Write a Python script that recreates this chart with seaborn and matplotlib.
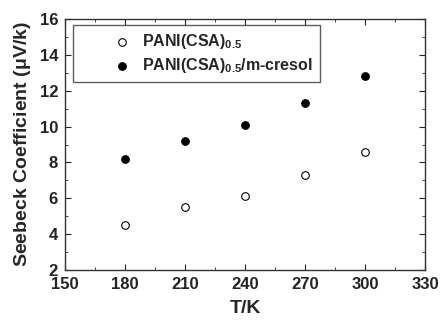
import matplotlib
matplotlib.use('Agg')
import matplotlib.pyplot as plt
import pandas as pd
import seaborn as sns
from matplotlib.ticker import MultipleLocator

temps = [180, 210, 240, 270, 300]
seebeck_csa = [4.5, 5.5, 6.1, 7.3, 8.6]
seebeck_cresol = [8.2, 9.2, 10.1, 11.3, 12.8]
labels = [r'PANI(CSA)$_{\mathbf{0.5}}$', r'PANI(CSA)$_{\mathbf{0.5}}$/m-cresol']

data = pd.DataFrame({
	'T': temps * 2,
	'S': seebeck_csa + seebeck_cresol,
	'sample': [labels[0]] * len(temps) + [labels[1]] * len(temps),
})

sns.set_style('ticks')
plt.rcParams['font.family'] = ['Liberation Sans', 'DejaVu Sans']
plt.rcParams['font.weight'] = 'bold'
plt.rcParams['mathtext.fontset'] = 'custom'
plt.rcParams['mathtext.bf'] = 'Liberation Sans:bold'

fig = plt.figure(figsize=(4.4, 3.23), dpi=100)
ax = fig.add_axes([65 / 440, 1 - 270 / 323, 360 / 440, 251 / 323])

for lab, fc in zip(labels, ['white', 'black']):
	sub = data[data['sample'] == lab]
	sns.scatterplot(data=sub, x='T', y='S', ax=ax, marker='o', s=30,
		facecolor=fc, edgecolor='black', linewidth=0.8, label=lab)

ax.set_xlim(150, 330)
ax.set_ylim(2, 16)
ax.xaxis.set_major_locator(MultipleLocator(30))
ax.xaxis.set_minor_locator(MultipleLocator(15))
ax.yaxis.set_major_locator(MultipleLocator(2))
ax.yaxis.set_minor_locator(MultipleLocator(1))
ax.tick_params(which='both', direction='in', top=True, right=True, colors='#222222',
	labelsize=12, pad=5)
ax.tick_params(which='major', length=4)
ax.tick_params(which='minor', length=2.5)
ax.tick_params(labeltop=False, labelright=False)
for lab in ax.get_xticklabels() + ax.get_yticklabels():
	lab.set_fontweight('bold')
for sp in ax.spines.values():
	sp.set_linewidth(1.0)
	sp.set_color('#333333')

ax.set_xlabel('T/K', fontsize=14, fontweight='bold', labelpad=6)
ax.set_ylabel(r'Seebeck Coefficient ($\mathbf{\mu}$V/k)', fontsize=14, fontweight='bold', labelpad=5)

leg = ax.legend(loc='upper left', bbox_to_anchor=(0.022, 0.976), borderaxespad=0,
	fontsize=11.5, frameon=True, fancybox=False, edgecolor='#333333', borderpad=0.45,
	handletextpad=-1.45, labelspacing=0.3, handlelength=5.3)
leg.get_frame().set_linewidth(1.0)
for t in leg.get_texts():
	t.set_fontweight('bold')

plt.savefig('out.png', dpi=100)
